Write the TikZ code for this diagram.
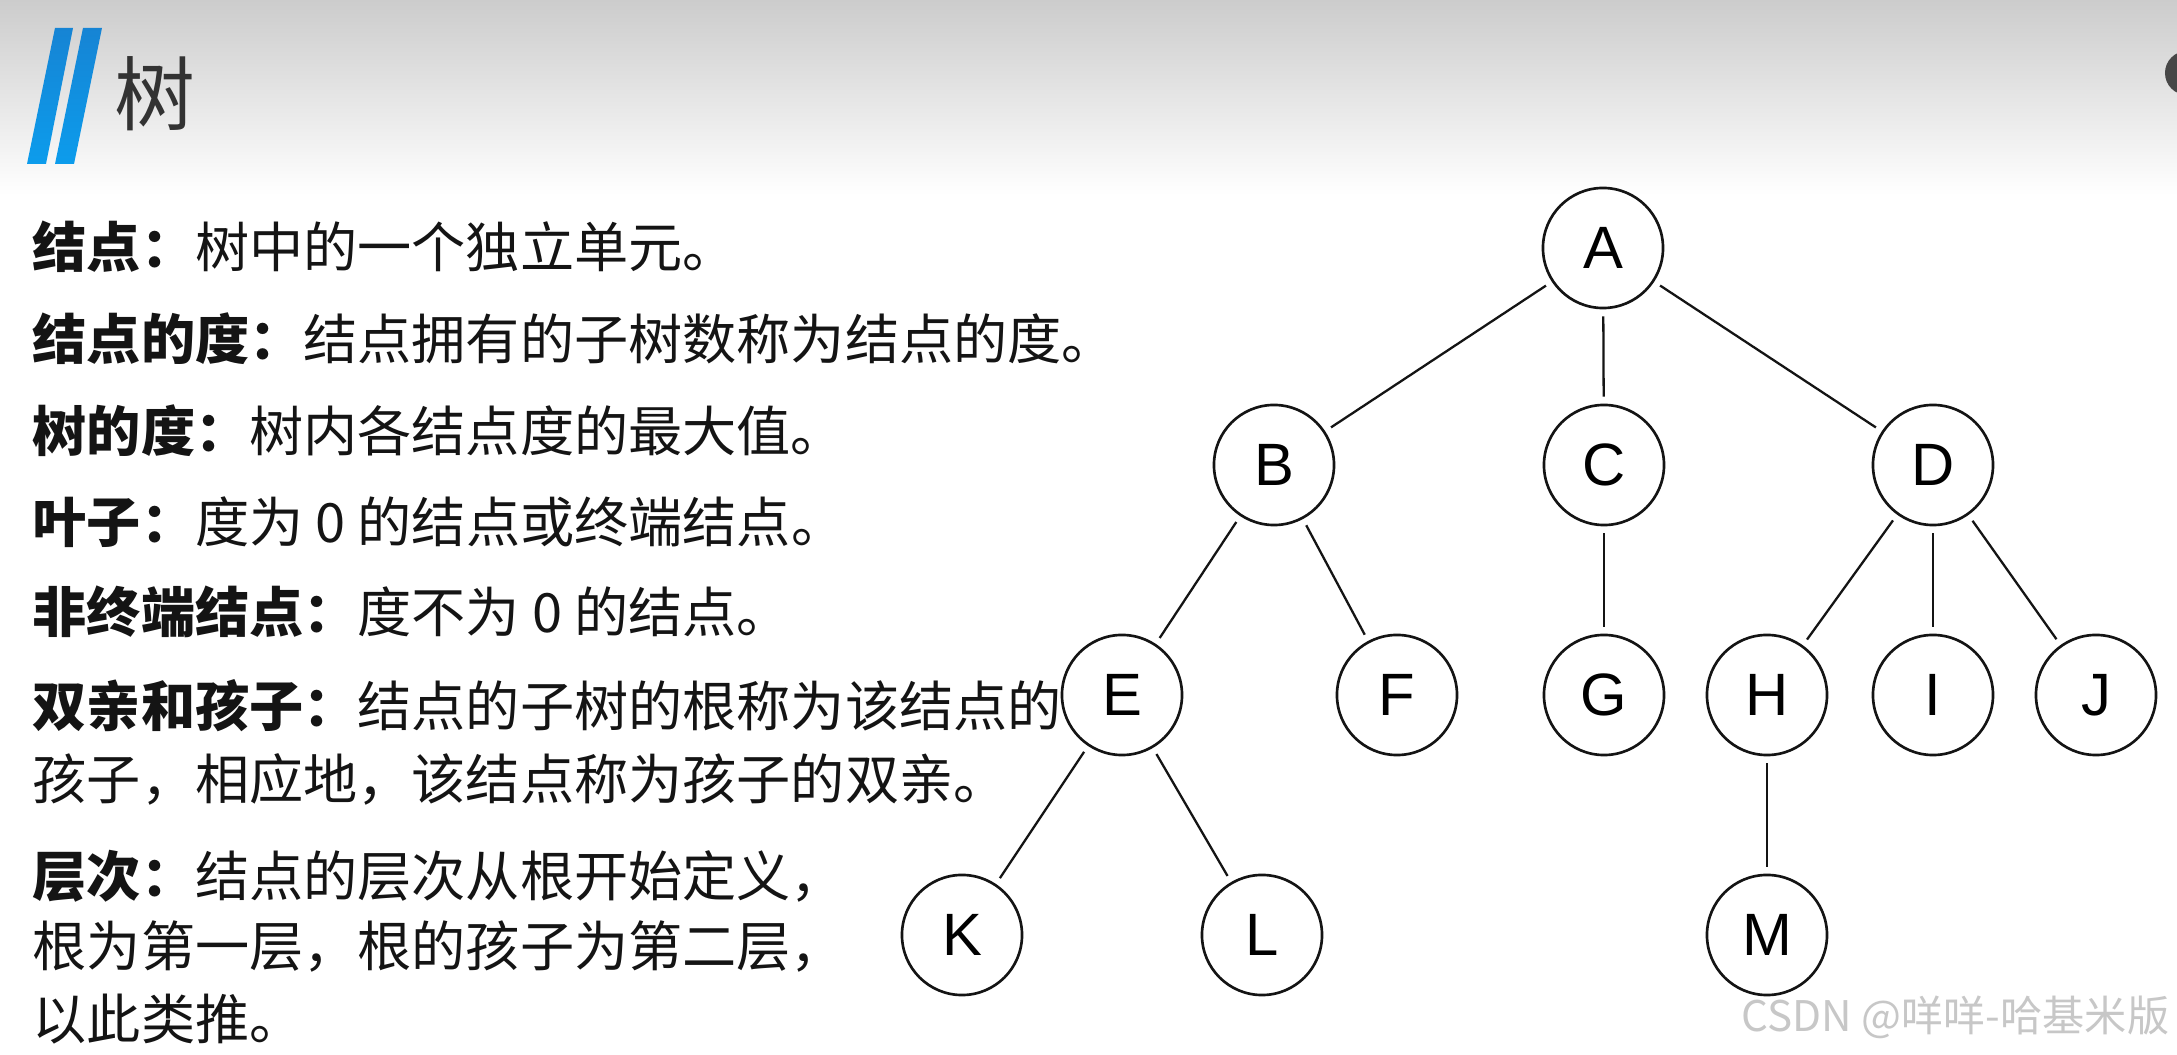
\documentclass[tikz,border=0pt]{standalone}
\usepackage{fontspec}
\setmainfont{Noto Sans CJK SC}
\newfontfamily\lettersans{Liberation Sans}
\definecolor{hdrtop}{RGB}{204,204,204}
\definecolor{bartop}{RGB}{22,132,212}
\definecolor{barbot}{RGB}{12,156,236}
\definecolor{inkdark}{RGB}{20,20,20}

\begin{document}
\begin{tikzpicture}[x=0.01cm, y=-0.01cm,
  treenode/.style={circle, draw=inkdark, line width=0.75pt, minimum size=1.2cm, inner sep=0pt,
    font=\lettersans\fontsize{17}{17}\selectfont},
  link/.style={draw=inkdark, line width=0.65pt, shorten <=0.7mm, shorten >=0.7mm},
  body/.style={anchor=base west, inner sep=0pt, text=inkdark, font=\fontsize{15.4}{15.4}\selectfont}]
  \useasboundingbox (0,0) rectangle (2177,1055);
  \fill[white] (0,0) rectangle (2177,1055);

  % HEADER — grey band, blue bars, title
  \shade[top color=hdrtop, bottom color=white] (0,0) rectangle (2177,195);
  \fill[black!72] (2187,73) circle (2.2mm);
  \shade[top color=bartop, bottom color=barbot] (55,28) -- (73,28) -- (46,164) -- (27,164) -- cycle;
  \shade[top color=bartop, bottom color=barbot] (83,28) -- (102,28) -- (74,164) -- (55,164) -- cycle;
  \node[text=black!80, font=\fontsize{23}{23}\selectfont] (title) at (155,94) {树};

  % DEFINITIONS — one node per printed line
  \foreach \y/\txt [count=\i] in {
    268/{{\bfseries 结点：}树中的一个独立单元。},
    360/{{\bfseries 结点的度：}结点拥有的子树数称为结点的度。},
    452/{{\bfseries 树的度：}树内各结点度的最大值。},
    543/{{\bfseries 叶子：}度为 0 的结点或终端结点。},
    633/{{\bfseries 非终端结点：}度不为 0 的结点。},
    727/{{\bfseries 双亲和孩子：}结点的子树的根称为该结点的},
    800/{孩子，相应地，该结点称为孩子的双亲。},
    897/{{\bfseries 层次：}结点的层次从根开始定义，},
    967/{根为第一层，根的孩子为第二层，},
    1040/{以此类推。}}
    \node[body] (line\i) at (32,\y) {\txt};

  % TREE — nodes by level, then links
  \foreach \n/\x/\y in {
    A/1603/248,
    B/1274/465, C/1604/465, D/1933/465,
    E/1122/695, F/1397/695, G/1604/695, H/1767/695, I/1933/695, J/2096/695,
    K/962/935,  L/1262/935, M/1767/935}
    \node[treenode] (\n) at (\x,\y) {\n};
  \foreach \a/\b in {A/B, A/C, A/D, B/E, B/F, C/G, D/H, D/I, D/J, E/K, E/L, H/M}
    \draw[link] (\a) -- (\b);

  % WATERMARK
  \node[anchor=east, inner sep=0pt, text=black!22, font=\fontsize{12}{12}\selectfont] (mark) at (2170,1017) {CSDN @咩咩-哈基米版};
\end{tikzpicture}
\end{document}
